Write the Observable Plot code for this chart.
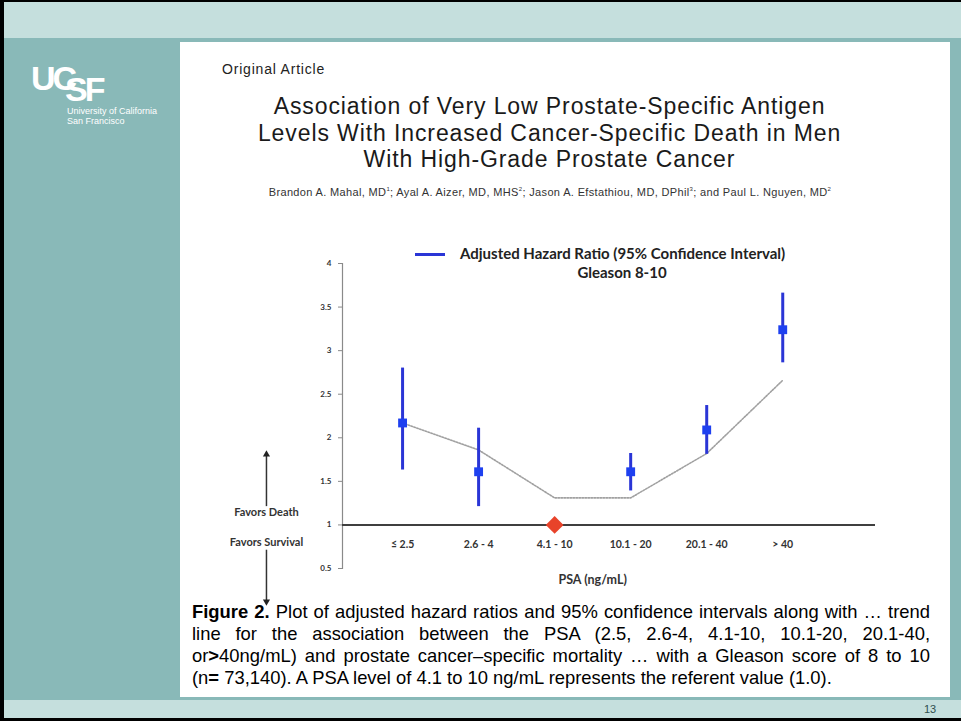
<!DOCTYPE html>
<html>
<head>
<meta charset="utf-8">
<script src="https://cdn.jsdelivr.net/npm/d3@7"></script>
<script src="https://cdn.jsdelivr.net/npm/@observablehq/plot@0.6"></script>
<style>
  html, body { margin: 0; padding: 0; }
  body { width: 961px; height: 721px; position: relative; background: #000; overflow: hidden; font-family: "Liberation Sans", Arial, sans-serif; }
  .abs { position: absolute; }
  #chart { position: absolute; left: 180px; top: 230px; z-index: 2; }
  .cap-line { position: absolute; left: 192px; width: 738px; font-size: 18.4px; line-height: 22px; white-space: nowrap; color: #000; }
  .just { text-align: justify; text-align-last: justify; white-space: normal; }
</style>
</head>
<body>
<div class="abs" style="left:4px;top:2px;width:957px;height:36px;background:#c5dfdd"></div>
<div class="abs" style="left:4px;top:38px;width:957px;height:4px;background:#89b9b8"></div>
<div class="abs" style="left:4px;top:38px;width:176px;height:662px;background:#89b9b8"></div>
<div class="abs" style="left:950px;top:38px;width:11px;height:662px;background:#89b9b8"></div>
<div class="abs" style="left:180px;top:42px;width:770px;height:655px;background:#fff"></div>
<div class="abs" style="left:4px;top:697px;width:957px;height:3px;background:#89b9b8"></div>
<div class="abs" style="left:4px;top:700px;width:957px;height:18px;background:#c5dfdd"></div>
<div class="abs" style="left:924px;top:703px;font-size:11px;color:#2f4f4f">13</div>

<!-- UCSF logo -->
<div class="abs" style="left:31px;top:61px;color:#fff;font-family:'Liberation Sans',Arial,sans-serif;font-weight:bold;font-size:34px;letter-spacing:-3px;line-height:34px;white-space:nowrap">UC<span style="position:relative;top:11px;margin-left:-9px">SF</span></div>
<div class="abs" style="left:67px;top:106px;color:#fff;font-size:9px;line-height:10px">University of California<br>San Francisco</div>

<!-- Article header -->
<div class="abs" style="left:222px;top:61px;font-size:14px;letter-spacing:0.8px;color:#222">Original Article</div>
<div class="abs" id="title" style="left:172px;top:93px;width:755px;text-align:center;font-size:23px;line-height:26.5px;letter-spacing:0.9px;color:#1a1a1a">Association of Very Low Prostate-Specific Antigen<br>Levels With Increased Cancer-Specific Death in Men<br>With High-Grade Prostate Cancer</div>
<div class="abs" style="left:165px;top:186px;width:770px;text-align:center;font-size:11px;letter-spacing:0.35px;color:#333;white-space:nowrap">Brandon A. Mahal, MD<sup style="font-size:6px">1</sup>; Ayal A. Aizer, MD, MHS<sup style="font-size:6px">2</sup>; Jason A. Efstathiou, MD, DPhil<sup style="font-size:6px">3</sup>; and Paul L. Nguyen, MD<sup style="font-size:6px">2</sup></div>

<!-- Legend -->
<div class="abs" style="left:415px;top:253px;width:30px;height:3px;background:#2a35d6"></div>
<div class="abs" style="left:460px;top:244px;font-family:Lato,sans-serif;font-weight:bold;font-size:15px;color:#222;white-space:nowrap">Adjusted Hazard Ratio (95% Confidence Interval)</div>
<div class="abs" style="left:560px;top:263px;width:124px;text-align:center;font-family:Lato,sans-serif;font-weight:bold;font-size:15px;color:#222">Gleason 8-10</div>

<!-- Caption -->
<div class="cap-line just" style="top:601px"><b>Figure 2.</b> Plot of adjusted hazard ratios and 95% confidence intervals along with … trend</div>
<div class="cap-line just" style="top:623px">line for the association between the PSA (2.5, 2.6-4, 4.1-10, 10.1-20, 20.1-40,</div>
<div class="cap-line just" style="top:645px">or<b>&gt;</b>40ng/mL) and prostate cancer–specific mortality … with a Gleason score of 8 to 10</div>
<div class="cap-line" style="top:667px">(n<b>=</b> 73,140). A PSA level of 4.1 to 10 ng/mL represents the referent value (1.0).</div>

<div id="chart"></div>

<script>
// ---- Data ----
const categories = ["≤ 2.5", "2.6 - 4", "4.1 - 10", "10.1 - 20", "20.1 - 40", "> 40"];
const hazardRatio = [2.17, 1.61, 1.0, 1.61, 2.09, 3.24];
const ciLow = [1.63, 1.21, null, 1.39, 1.81, 2.86];
const ciHigh = [2.80, 2.11, null, 1.82, 2.37, 3.66];
const trendLine = [2.17, 1.86, 1.31, 1.31, 1.82, 2.66];
const referentIndex = 2;
const yTicks = [0.5, 1, 1.5, 2, 2.5, 3, 3.5, 4];
const sideLabels = ["Favors Death", "Favors Survival"];
const sideLabelY = [1.14, 0.80];
const sideArrowFrom = [1.21, 0.71];
const sideArrowTo = [1.81, 0.12];
const sideArrowDir = [0, 180];
const xLabel = "PSA (ng/mL)";

const rows = categories.map((c, i) => ({
  i, c, hr: hazardRatio[i], lo: ciLow[i], hi: ciHigh[i], trend: trendLine[i]
}));
const ciRows = rows.filter(d => d.lo != null);
const refRows = rows.filter(d => d.i === referentIndex);
const sideX = -1.79;
const side = sideLabels.map((t, k) => ({t, y: sideLabelY[k], y1: sideArrowFrom[k], y2: sideArrowTo[k], rot: sideArrowDir[k]}));

const calibri = "Lato, 'Open Sans', sans-serif";

const chart = Plot.plot({
  width: 770,
  height: 385,
  marginLeft: 162,
  marginRight: 75,
  marginTop: 33,
  marginBottom: 47,
  style: { fontFamily: calibri, background: "transparent", overflow: "visible" },
  x: { domain: [-0.79, 6.22], axis: null },
  y: { domain: [0.5, 4], axis: null },
  marks: [
    Plot.frame({ anchor: "left", stroke: "#8a8a8a", strokeWidth: 1.2 }),
    Plot.axisY({ ticks: yTicks, tickSize: 4, tickPadding: 7, tickFormat: d => String(d), fontSize: 8, fontWeight: "bold", stroke: "#8a8a8a", fill: "#333", label: null }),
    Plot.ruleY([1], { stroke: "#3f3f3f", strokeWidth: 2 }),
    Plot.line(rows, { x: "i", y: "trend", stroke: "#a0a0a0", strokeWidth: 1.6, strokeDasharray: "1.5,1.5" }),
    Plot.ruleX(ciRows, { x: "i", y1: "lo", y2: "hi", stroke: "#2a35d6", strokeWidth: 3 }),
    Plot.dot(ciRows, { x: "i", y: "hr", symbol: "square", r: 5, fill: "#1e40f0", stroke: "none" }),
    Plot.dot(refRows, { x: "i", y: "hr", symbol: "diamond2", r: 8, fill: "#e8432a", stroke: "none" }),
    Plot.text(rows, { x: "i", y: 0.77, text: "c", fontSize: 10.5, fontWeight: "bold", fill: "#333" }),
    Plot.text([xLabel], { x: (categories.length - 1) / 2, y: 0.5, dy: 11, text: d => d, fontSize: 12.5, fontWeight: "bold", fill: "#333" }),
    Plot.text(side, { x: sideX, y: "y", text: "t", fontSize: 11, fontWeight: "bold", fill: "#333" }),
    Plot.ruleX(side, { x: sideX, y1: "y1", y2: "y2", stroke: "#333", strokeWidth: 1.5 }),
    Plot.dot(side, { x: sideX, y: "y2", symbol: "triangle2", r: 3.4, rotate: "rot", fill: "#222", stroke: "none" })
  ]
});
document.getElementById("chart").appendChild(chart);
</script>
</body>
</html>
